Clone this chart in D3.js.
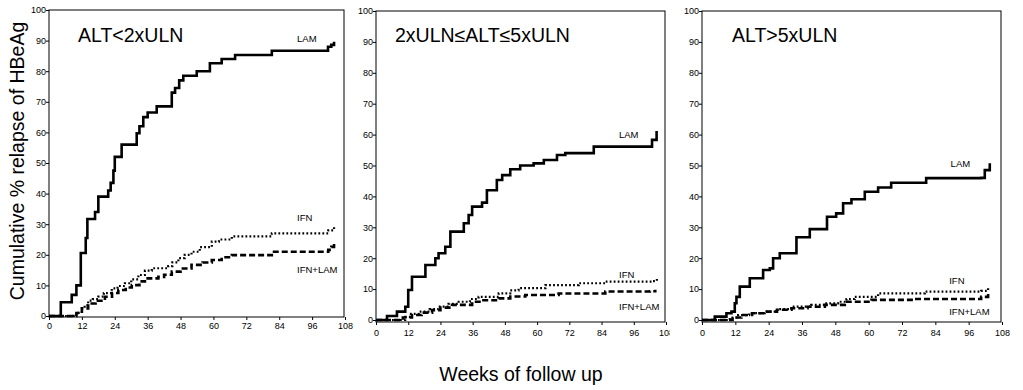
<!DOCTYPE html>
<html>
<head>
<meta charset="utf-8">
<script src="https://cdn.jsdelivr.net/npm/d3@7"></script>
<style>
    html, body { margin: 0; padding: 0; background: #fff; }
    svg { display: block; }
    text { font-family: "Liberation Sans", Arial, sans-serif; fill: #000; }
</style>
</head>
<body>
<div id="chart"></div>
<script>

/* DATA */

// Week ticks and percent ticks shared by all three panels
let weekTicks = [0, 12, 24, 36, 48, 60, 72, 84, 96, 108];
let pctTicks = [0, 10, 20, 30, 40, 50, 60, 70, 80, 90, 100];

let panelTitles = ["ALT<2xULN", "2xULN\u2264ALT\u22645xULN", "ALT>5xULN"];
let seriesNames = ["LAM", "IFN", "IFN+LAM"];

// Kaplan-Meier steps as [week, cumulative %], one list per group and ALT stratum
let lamLow = [[0, 0], [4.3, 4.5], [8.3, 6.9], [10, 10], [11.6, 20.6], [13.4, 25.5], [14, 31.7], [16.8, 34], [18, 39],
    [21.6, 41], [22.5, 43.5], [23.5, 47.5], [24, 52], [26.5, 56], [32, 59.7], [33, 62], [34.4, 65], [36, 66.5],
    [39.3, 68.5], [44.8, 73], [46, 74.5], [47.5, 77], [49, 78.5], [53.9, 80], [58.7, 82.6], [63, 84], [67.9, 85.3],
    [81.3, 86.7], [101.8, 88], [103, 88.6], [104, 89.6]];
let ifnLow = [[0, 0], [7.7, 0], [9, 0.5], [10.7, 1], [12, 2.5], [13, 3.5], [14.3, 5], [16, 5.5], [18, 6.3], [20, 7.5],
    [22.9, 9], [25, 9.8], [27.7, 10.7], [30, 12], [32.6, 13.4], [35, 14.8], [37.5, 15.6], [43.5, 16.3], [45, 17.5],
    [47.2, 18.9], [49.5, 20], [52, 21], [55, 22.5], [59.4, 24.3], [62, 25], [66.7, 26], [81.3, 27], [101.9, 28],
    [104, 29.3]];
let comboLow = [[0, 0], [8.3, 0], [10, 1], [12, 2.5], [14.3, 4.1], [17, 5], [20.4, 6.3], [23, 7.5], [25.3, 8.5],
    [28, 9.3], [30.2, 10.1], [33, 11.3], [35, 12.3], [39.9, 12.8], [42, 13.5], [44.8, 14.5], [48, 15.5], [52, 16.7],
    [56, 17.5], [59.4, 18.3], [63, 19.2], [66.7, 19.9], [81.3, 21], [101.9, 21.6], [103, 22.6], [104, 23.8]];

let lamMid = [[0, 0], [4.1, 1.3], [7.8, 2.7], [10.9, 4.3], [12, 9.7], [13.4, 14], [18.4, 17.8], [22.1, 20],
    [23.3, 21.6], [25.8, 23.7], [27.7, 28.6], [32.7, 31.3], [34.5, 34], [35.8, 36.7], [39.5, 38], [41.3, 42],
    [45, 45.3], [47, 46.9], [50, 48.8], [53.7, 50], [58.7, 50.7], [62.5, 51.8], [67.4, 53.4], [70.5, 54],
    [81.1, 56.1], [102.8, 58.3], [104.5, 61.2]];
let ifnMid = [[0, 0], [7, 0], [10.9, 1], [13, 2], [15.9, 2.7], [20, 3.5], [23.3, 4.3], [27, 5.2], [30.8, 5.9],
    [35, 6.8], [38.2, 7.5], [45.7, 8.6], [50, 9.6], [53.1, 10.3], [63.1, 11.3], [75.5, 11.9], [85.4, 12.4],
    [103, 12.6], [104.6, 13.5]];
let comboMid = [[0, 0], [7.7, 0], [10, 0.8], [13.4, 1.6], [17, 2.4], [20.9, 3.2], [24, 4], [28.3, 4.9], [35.8, 5.9],
    [40, 6.4], [45.7, 7], [50, 7.6], [55.6, 8.1], [68, 8.6], [85.4, 9.2], [102, 9.3], [104, 9.8]];

let lamHigh = [[0, 0], [4.6, 1.1], [8.8, 2.2], [10.6, 2.7], [11.8, 5.4], [12.4, 7.5], [13.6, 10.8], [17.2, 13.5],
    [22, 16.2], [24.4, 16.7], [25.6, 20], [28, 21.6], [34, 26.8], [38.8, 29.4], [45, 33.4], [48.3, 34.5],
    [50.8, 37.8], [53.8, 39.1], [58.6, 41.5], [63.4, 42.9], [68.1, 44.4], [80.7, 45.9], [100.5, 46], [101.8, 48.5],
    [103.6, 50.7]];
let ifnHigh = [[0, 0], [7, 0], [10, 0.8], [13, 1.6], [17, 2.2], [22.6, 2.7], [27, 3.5], [32.2, 4.3], [39.3, 4.9],
    [44, 5.4], [49, 5.9], [52, 6.8], [55, 7.5], [63.4, 8.6], [80.2, 9.2], [100.5, 9.4], [103, 10.3]];
let comboHigh = [[0, 0], [8.8, 0], [11, 0.8], [14.2, 1.6], [18, 2.2], [22.6, 2.7], [27, 3.3], [32.2, 3.8], [38, 4.3],
    [44.2, 4.9], [51.4, 5.9], [61, 6.5], [76, 6.8], [100.5, 7.5], [103, 8.4]];


/* LAYOUT */

let width = 1023;
let height = 390;

// Pixel frame of each panel plus where its curve labels sit (in week / % units)
let panels = [
    { title: panelTitles[0], series: [lamLow, ifnLow, comboLow],
      left: 49, right: 345, top: 10, zero: 316, axisY: 317, tickGap: 11, titleX: 78,
      labelAt: [[90.5, 89.5], [90.5, 31], [90.5, 14]] },
    { title: panelTitles[1], series: [lamMid, ifnMid, comboMid],
      left: 376, right: 666, top: 11, zero: 320, axisY: 322, tickGap: 13, titleX: 395, clipRight: 670,
      labelAt: [[90.5, 59], [90.5, 13.5], [90.5, 3.3]] },
    { title: panelTitles[2], series: [lamHigh, ifnHigh, comboHigh],
      left: 702, right: 1002, top: 11, zero: 320, axisY: 322, tickGap: 13, titleX: 732,
      labelAt: [[89.5, 49.5], [89, 11.5], [89, 1.5]] }
];

// Solid, dotted and dashed strokes for LAM, IFN and IFN+LAM
let lineStyles = [
    { width: 2.6, dash: null },
    { width: 2.2, dash: "1.8,2.2" },
    { width: 2.6, dash: "6,3" }
];


/* SETUP */

let svg = d3.select("#chart")
    .append("svg")
    .attr("width", width)
    .attr("height", height)
    .style("background", "#fff");

function drawPanel(p, idx) {

    let x = d3.scaleLinear().domain([0, 108]).range([p.left, p.right]);
    let y = d3.scaleLinear().domain([0, 100]).range([p.zero, p.top]);

    let g = svg.append("g").attr("class", "panel-" + idx);

    // Frame
    g.append("rect")
        .attr("x", p.left)
        .attr("y", p.top)
        .attr("width", p.right - p.left - 1)
        .attr("height", p.axisY - p.top)
        .attr("fill", "none")
        .attr("stroke", "#000")
        .attr("stroke-width", 1);

    // Y axis
    let yAxis = g.append("g")
        .attr("transform", "translate(" + p.left + ",0)")
        .call(d3.axisLeft(y).tickValues(pctTicks).tickSize(3).tickPadding(0));
    yAxis.select(".domain").remove();
    yAxis.selectAll("text")
        .style("font-size", "9px")
        .style("font-family", "'Liberation Sans', Arial, sans-serif");

    // X axis, clipped where the neighbouring panel starts
    let xAxis = g.append("g")
        .attr("transform", "translate(0," + p.axisY + ")")
        .call(d3.axisBottom(x).tickValues(weekTicks).tickSize(3).tickPadding(p.tickGap - 8));
    xAxis.select(".domain").remove();
    xAxis.selectAll("text")
        .style("font-size", "9px")
        .style("font-family", "'Liberation Sans', Arial, sans-serif");

    if (p.clipRight) {
        let id = "clip-" + idx;
        svg.append("clipPath").attr("id", id)
            .append("rect")
            .attr("x", p.left - 30).attr("y", 0)
            .attr("width", p.clipRight - p.left + 30).attr("height", height);
        xAxis.attr("clip-path", "url(#" + id + ")");
    }

    // Step curves
    let line = d3.line()
        .x(d => x(d[0]))
        .y(d => y(d[1]))
        .curve(d3.curveStepAfter);

    p.series.forEach((s, i) => {
        g.append("path")
            .datum(s)
            .attr("d", line)
            .attr("fill", "none")
            .attr("stroke", "#000")
            .attr("stroke-width", lineStyles[i].width)
            .attr("stroke-dasharray", lineStyles[i].dash);
    });

    // Curve labels
    seriesNames.forEach((name, i) => {
        g.append("text")
            .attr("x", x(p.labelAt[i][0]))
            .attr("y", y(p.labelAt[i][1]))
            .style("font-size", "9.5px")
            .text(name);
    });

    // Panel title
    g.append("text")
        .attr("x", p.titleX)
        .attr("y", 42)
        .style("font-size", "19.5px")
        .text(p.title);
}

panels.forEach(drawPanel);

// Shared axis titles
svg.append("text")
    .attr("transform", "translate(24,161) rotate(-90)")
    .attr("text-anchor", "middle")
    .style("font-size", "19.5px")
    .text("Cumulative % relapse of HBeAg");

svg.append("text")
    .attr("x", 521)
    .attr("y", 381)
    .attr("text-anchor", "middle")
    .style("font-size", "19.5px")
    .text("Weeks of follow up");

</script>
</body>
</html>
